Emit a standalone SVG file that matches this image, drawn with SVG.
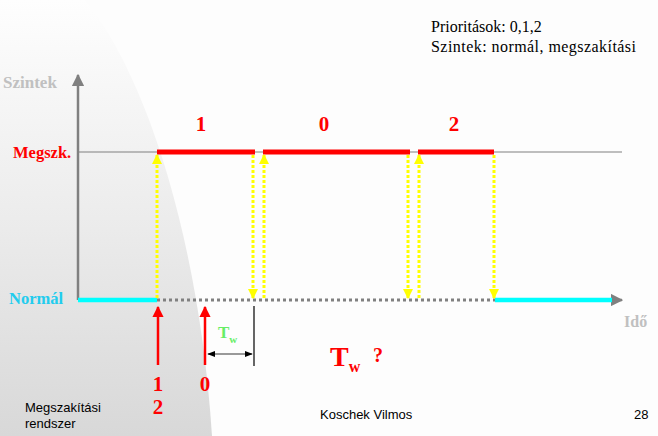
<svg xmlns="http://www.w3.org/2000/svg" width="658" height="436" viewBox="0 0 658 436">
<defs>
<linearGradient id="bgGrad" x1="0" y1="0" x2="0" y2="1">
<stop offset="0" stop-color="#fefefe"/>
<stop offset="0.5" stop-color="#ececec"/>
<stop offset="1" stop-color="#d8d8d8"/>
</linearGradient>
<marker id="grayHead" viewBox="0 0 10 10" refX="9" refY="5" markerWidth="5" markerHeight="5" orient="auto" markerUnits="strokeWidth">
<path d="M0,0 L10,5 L0,10 Z" fill="#808080"/>
</marker>
<marker id="yHead" viewBox="0 0 10 10" refX="9" refY="5" markerWidth="3.5" markerHeight="3.5" orient="auto" markerUnits="strokeWidth">
<path d="M0,0 L10,5 L0,10 Z" fill="#ffff00"/>
</marker>
<marker id="rHead" viewBox="0 0 10 10" refX="9" refY="5" markerWidth="4.5" markerHeight="4.5" orient="auto" markerUnits="strokeWidth">
<path d="M0,0 L10,5 L0,10 Z" fill="#ff0000"/>
</marker>
<marker id="kHead" viewBox="0 0 10 10" refX="9" refY="5" markerWidth="4" markerHeight="4" orient="auto-start-reverse" markerUnits="strokeWidth">
<path d="M0,1 L10,5 L0,9 Z" fill="#000000"/>
</marker>
</defs>
<style>
.ser{font-family:"Liberation Serif","Times New Roman",serif;}
.bold{font-weight:bold;}
.sans{font-family:"Liberation Sans",Arial,sans-serif;font-size:13px;fill:#000;}
.red{fill:#ff0000;}
.num{font-size:21px;}
.yel{stroke:#ffff00;stroke-width:3;stroke-dasharray:3 2;fill:none;}
.redseg{stroke:#ff0000;stroke-width:5;}
.redarrow{stroke:#ff0000;stroke-width:2.5;fill:none;}
</style>
<rect x="0" y="0" width="658" height="436" fill="#fdfdfd"/>
<path d="M0,0 L85,0 C150,80 200,250 212,436 L0,436 Z" fill="url(#bgGrad)"/>

<g id="texts-top">
<text class="ser" x="431" y="32" font-size="16" fill="#000">Prioritások: 0,1,2</text>
<text class="ser" x="431" y="52" font-size="16" fill="#000" textLength="205" lengthAdjust="spacing">Szintek: normál, megszakítási</text>
</g>

<g id="axes">
<line x1="78" y1="300" x2="78" y2="75" stroke="#808080" stroke-width="2.5" marker-end="url(#grayHead)"/>
<line x1="78" y1="152" x2="622" y2="152" stroke="#808080" stroke-width="1.2"/>
<line x1="157" y1="300" x2="495" y2="300" stroke="#808080" stroke-width="3" stroke-dasharray="3 3"/>
<line x1="600" y1="300" x2="622" y2="300" stroke="#808080" stroke-width="2.5" marker-end="url(#grayHead)"/>
<line x1="78" y1="300" x2="157" y2="300" stroke="#00ffff" stroke-width="4.5"/>
<line x1="495" y1="300" x2="612" y2="300" stroke="#00ffff" stroke-width="4.5"/>
</g>

<g id="labels">
<text class="ser bold" x="3" y="88" font-size="17" fill="#c0c0c0">Szintek</text>
<text class="ser bold" x="13" y="158" font-size="16.5" fill="#ff0000">Megszk.</text>
<text class="ser bold" x="9" y="304" font-size="16.5" fill="#22ccee">Normál</text>
<text class="ser bold" x="624" y="327" font-size="16" fill="#c0c0c0">Idő</text>
</g>

<g id="segments">
<line class="redseg" x1="157" y1="152" x2="255" y2="152"/>
<line class="redseg" x1="263" y1="152" x2="410" y2="152"/>
<line class="redseg" x1="418" y1="152" x2="494" y2="152"/>
<text class="ser bold red num" x="201" y="131" text-anchor="middle">1</text>
<text class="ser bold red num" x="324" y="131" text-anchor="middle">0</text>
<text class="ser bold red num" x="454" y="131" text-anchor="middle">2</text>
</g>

<g id="connectors">
<line class="yel" x1="157" y1="298" x2="157" y2="155" marker-end="url(#yHead)"/>
<line class="yel" x1="253" y1="155" x2="253" y2="298" marker-end="url(#yHead)"/>
<line class="yel" x1="264" y1="298" x2="264" y2="155" marker-end="url(#yHead)"/>
<line class="yel" x1="408" y1="155" x2="408" y2="298" marker-end="url(#yHead)"/>
<line class="yel" x1="419" y1="298" x2="419" y2="155" marker-end="url(#yHead)"/>
<line class="yel" x1="494" y1="155" x2="494" y2="298" marker-end="url(#yHead)"/>
<line class="redarrow" x1="158" y1="365" x2="158" y2="307" marker-end="url(#rHead)"/>
<line class="redarrow" x1="205" y1="365" x2="205" y2="307" marker-end="url(#rHead)"/>
<line x1="254" y1="306" x2="254" y2="366" stroke="#000" stroke-width="1.2"/>
<line x1="208" y1="354" x2="252" y2="354" stroke="#999999" stroke-width="2" marker-start="url(#kHead)" marker-end="url(#kHead)"/>
</g>

<g id="interrupts">
<text class="ser bold" x="218" y="338" font-size="17" fill="#66ee66">T<tspan font-size="11" dy="5">w</tspan></text>
<text class="ser bold red num" x="158" y="391" text-anchor="middle">1</text>
<text class="ser bold red num" x="158" y="414" text-anchor="middle">2</text>
<text class="ser bold red num" x="205" y="391" text-anchor="middle">0</text>
<text class="ser bold red" x="330" y="366" font-size="28">T<tspan font-size="16" dy="6">w</tspan></text>
<text class="ser bold red" x="373" y="362" font-size="20">?</text>
</g>

<g id="footer">
<text class="sans" x="25" y="412">Megszakítási</text>
<text class="sans" x="25" y="428">rendszer</text>
<text class="sans" x="320" y="419">Koschek Vilmos</text>
<text class="sans" x="634" y="419">28</text>
</g>
</svg>
